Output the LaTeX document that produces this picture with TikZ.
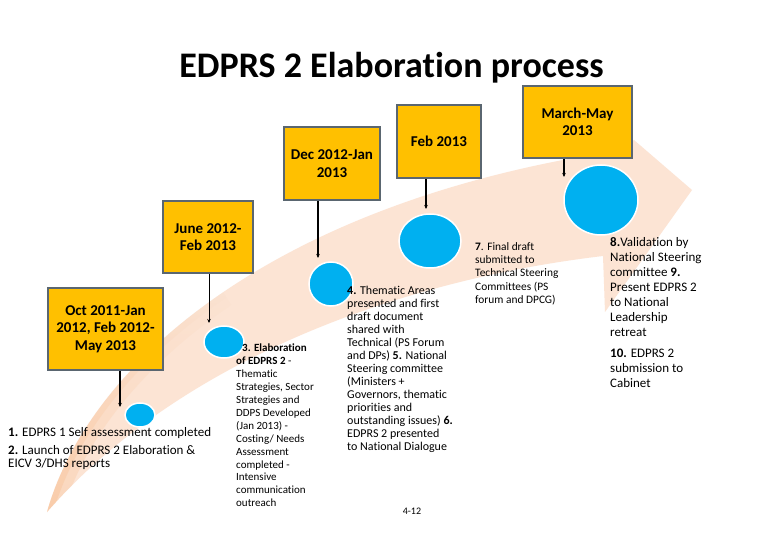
\documentclass[tikz,border=0pt]{standalone}
\usepackage{fontspec}
\setmainfont{Carlito}[Ligatures=NoCommon]
\usetikzlibrary{arrows.meta,fadings,shapes.geometric}
\definecolor{boxfill}{HTML}{FFC000}
\definecolor{boxline}{HTML}{5A6670}
\definecolor{dot}{HTML}{00B0F0}
\definecolor{peach}{HTML}{FCE4D4}
\definecolor{peachdeep}{HTML}{F7B885}
\tikzfading[name=tailfade, bottom color=transparent!0, top color=transparent!100]
\begin{document}
\begin{tikzpicture}[x=1pt,y=-1pt,
  datebox/.style={draw=boxline, line width=1.8pt, fill=boxfill, font=\fontsize{15}{17.5}\selectfont\bfseries, align=center, inner sep=0pt},
  dotnode/.style={ellipse, fill=dot, draw=white, line width=1.5pt, inner sep=0pt},
  link/.style={-{Stealth[length=4pt,width=3.5pt]}, line width=1.6pt},
  note/.style={anchor=north west, align=left, inner sep=0pt},
]
\useasboundingbox (0,0) rectangle (780,540);
\fill[white] (0,0) rectangle (780,540);

% background swoosh
\begin{scope}
\path[clip] (47,512) .. controls (90,360) and (280,200) .. (622,150) -- (634,140) -- (692,190) -- (605,312) -- (603,256) .. controls (400,280) and (180,360) .. (47,512) -- cycle;
\fill[peach] (0,0) rectangle (780,540);
\draw[peachdeep, line width=30pt, opacity=.3, path fading=tailfade] (47,512) .. controls (68.5,436) and (126.75,358) .. (223,292.5);
\draw[peachdeep, line width=12pt, opacity=.35, path fading=tailfade] (47,512) .. controls (68.5,436) and (126.75,358) .. (223,292.5);
\end{scope}

% title
\node[font=\fontsize{36}{42}\selectfont\bfseries, anchor=base] (title) at (391.5,78) {EDPRS 2 Elaboration process};

% date boxes
\node[datebox, minimum width=115pt, minimum height=82pt] (b1) at (105.5,329) {Oct 2011-Jan\\2012, Feb 2012-\\May 2013};
\node[datebox, minimum width=90pt, minimum height=72pt] (b2) at (208,237) {June 2012-\\Feb 2013};
\node[datebox, minimum width=96pt, minimum height=73pt] (b3) at (332,163.5) {Dec 2012-Jan\\2013};
\node[datebox, minimum width=84pt, minimum height=73pt] (b4) at (439,141.5) {Feb 2013};
\node[datebox, minimum width=109pt, minimum height=72pt] (b5) at (577.5,122) {March-May\\2013};

% milestones
\node[dotnode, minimum width=30pt, minimum height=24pt] (c1) at (140,415) {};
\node[dotnode, minimum width=40pt, minimum height=32pt] (c2) at (224,342) {};
\node[dotnode, minimum width=44pt, minimum height=44pt] (c3) at (331,284) {};
\node[dotnode, minimum width=62pt, minimum height=54pt] (c4) at (430,241) {};
\node[dotnode, minimum width=74pt, minimum height=70pt] (c5) at (601,200) {};

% connectors
\coordinate (e1) at (120,407);
\coordinate (e2) at (209,323);
\coordinate (e3) at (318,258);
\coordinate (e4) at (426,209);
\coordinate (e5) at (564,177);
\draw[link] (b1.south -| e1) -- (e1);
\draw[link, line width=0.9pt] (b2.south -| e2) -- (e2);
\draw[link] (b3.south -| e3) -- (e3);
\draw[link] (b4.south -| e4) -- (e4);
\draw[link, line width=1.3pt] (b5.south -| e5) -- (e5);

% texts
\node[note, font=\fontsize{13}{13.5}\selectfont] (t1) at (8,427) {\textbf{1.} EDPRS 1 Self assessment completed\\[4.5pt]\textbf{2.} Launch of EDPRS 2 Elaboration \&\\EICV 3/DHS reports};
\node[note, font=\fontsize{11}{12.9}\selectfont] (t3) at (236,344) {\hspace*{6pt}\textbf{3. Elaboration}\\\textbf{of EDPRS 2} -\\Thematic\\Strategies, Sector\\Strategies and\\DDPS Developed\\(Jan 2013) -\\Costing/ Needs\\Assessment\\completed -\\Intensive\\communication\\outreach};
\node[note, font=\fontsize{12}{13}\selectfont] (t4) at (347,286) {\textbf{4.} Thematic Areas\\presented and first\\draft document\\shared with\\Technical (PS Forum\\and DPs) \textbf{5.} National\\Steering committee\\(Ministers +\\Governors, thematic\\priorities and\\outstanding issues) \textbf{6.}\\EDPRS 2 presented\\to National Dialogue};
\node[note, font=\fontsize{11.4}{13.3}\selectfont] (t7) at (475,242) {\textbf{7}. Final draft\\submitted to\\Technical Steering\\Committees (PS\\forum and DPCG)};
\node[note, font=\fontsize{13}{15}\selectfont] (t8) at (610,237) {\textbf{8.}Validation by\\National Steering\\committee \textbf{9.}\\Present EDPRS 2\\to National\\Leadership\\retreat\\[6pt]\textbf{10.} EDPRS 2\\submission to\\Cabinet};
\node[font=\fontsize{10}{12}\selectfont] (pg) at (412,511) {4-12};
\end{tikzpicture}
\end{document}
